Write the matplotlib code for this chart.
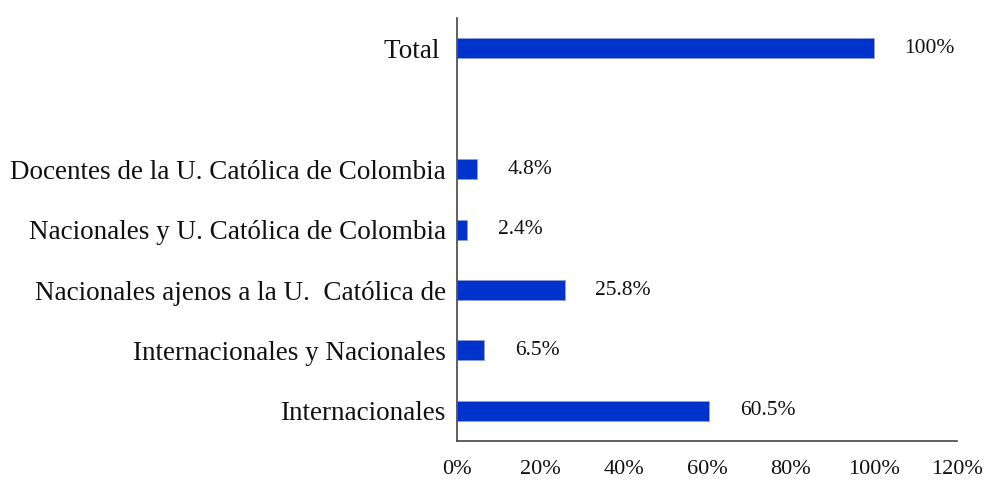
import matplotlib
matplotlib.use("Agg")
import matplotlib.pyplot as plt
import numpy as np

categories = ["Internacionales", "Internacionales y Nacionales",
              "Nacionales ajenos a la U.  Católica de",
              "Nacionales y U. Católica de Colombia",
              "Docentes de la U. Católica de Colombia", "", "Total "]
values = [60.5, 6.5, 25.8, 2.4, 4.8, np.nan, 100]
value_labels = ["60.5%", "6.5%", "25.8%", "2.4%", "4.8%", "", "100%"]
xticks = [0, 20, 40, 60, 80, 100, 120]
xtick_labels = ["0%", "20%", "40%", "60%", "80%", "100%", "120%"]

plt.rcParams["font.family"] = ["Liberation Serif", "DejaVu Serif"]

fig = plt.figure(figsize=(9.87, 4.93), dpi=100)
ax = fig.add_axes([0.463, 0.1055, 0.507, 0.8575])

y = np.arange(len(categories))
vals = np.array(values, dtype=float)
mask = ~np.isnan(vals)
ax.barh(y[mask], vals[mask], height=0.33, color="#0033CC", edgecolor="#8fa0d8", linewidth=0.6)

for yi, v, lab in zip(y, vals, value_labels):
    if np.isnan(v):
        continue
    ax.annotate(lab, (v, yi), xytext=(22, 0), textcoords="offset points",
                ha="left", va="center", fontsize=15.5, color="#111111")

ax.set_yticks(y)
ax.set_yticklabels(categories, fontsize=19.5, color="#111111")
ax.set_xticks(xticks)
ax.set_xticklabels(xtick_labels, fontsize=16, color="#111111")
ax.set_xlim(0, 120)
ax.set_ylim(-0.5, len(categories) - 0.5)
ax.tick_params(axis="both", length=0)
ax.tick_params(axis="x", pad=14)
ax.tick_params(axis="y", pad=8)
for s in ["top", "right"]:
    ax.spines[s].set_visible(False)
for s in ["left", "bottom"]:
    ax.spines[s].set_color("#444444")
    ax.spines[s].set_linewidth(1.2)

fig.savefig("out.png", dpi=100)
